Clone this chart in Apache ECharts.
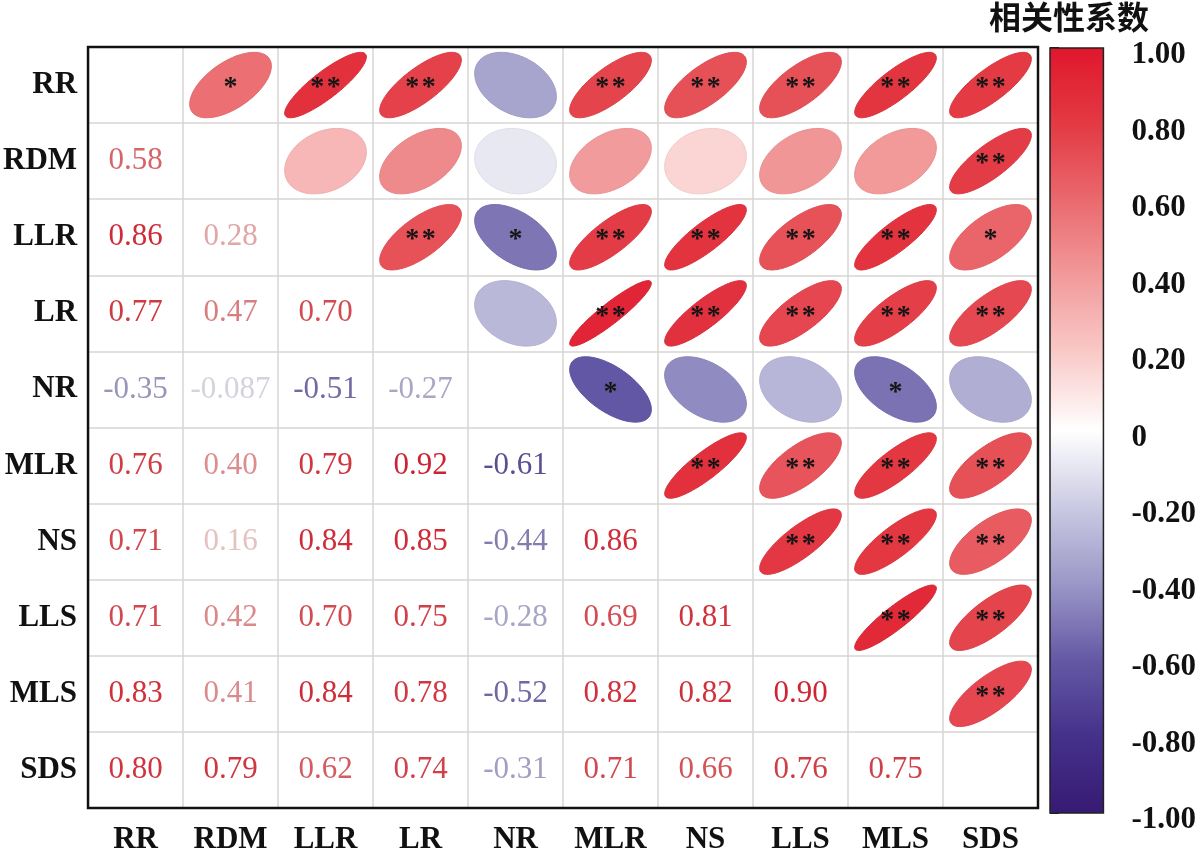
<!DOCTYPE html>
<html>
<head>
<meta charset="utf-8">
<script src="https://cdn.jsdelivr.net/npm/echarts@6/dist/echarts.min.js"></script>
<style>
  html, body { margin: 0; padding: 0; background: #fff; }
  #chart { width: 1199px; height: 855px; }
</style>
</head>
<body>
<div id="chart"></div>
<script>
const vars = ['RR', 'RDM', 'LLR', 'LR', 'NR', 'MLR', 'NS', 'LLS', 'MLS', 'SDS'];

// lower triangle, row i against columns 0..i-1
const lowerVals = [
  [],
  [0.58],
  [0.86, 0.28],
  [0.77, 0.47, 0.70],
  [-0.35, -0.087, -0.51, -0.27],
  [0.76, 0.40, 0.79, 0.92, -0.61],
  [0.71, 0.16, 0.84, 0.85, -0.44, 0.86],
  [0.71, 0.42, 0.70, 0.75, -0.28, 0.69, 0.81],
  [0.83, 0.41, 0.84, 0.78, -0.52, 0.82, 0.82, 0.90],
  [0.80, 0.79, 0.62, 0.74, -0.31, 0.71, 0.66, 0.76, 0.75],
];

// significance marks, upper triangle, row i against columns i+1..9
const sigMarks = [
  ['*', '**', '**', '', '**', '**', '**', '**', '**'],
  ['', '', '', '', '', '', '', '**'],
  ['**', '*', '**', '**', '**', '**', '*'],
  ['', '**', '**', '**', '**', '**'],
  ['*', '', '', '*', ''],
  ['**', '**', '**', '**'],
  ['**', '**', '**'],
  ['**', '**'],
  ['**'],
];

const barTicks = [-1, -0.8, -0.6, -0.4, -0.2, 0, 0.2, 0.4, 0.6, 0.8, 1];
const barColors = ['#371a74', '#44318a', '#6459a5', '#9b97c7', '#cbcae3', '#ffffff',
  '#f9cac8', '#f29b9c', '#ea6a6e', '#e33a44', '#e0172c'];

// build cells: [col, row, r] + mark lookup
const cells = [];
const cellMark = [];
for (let i = 0; i < vars.length; i++) {
  for (let j = 0; j < i; j++) {
    const r = lowerVals[i][j];
    cells.push([j, i, r]);       // lower: number
    cellMark.push('');
    cells.push([i, j, r]);       // upper: ellipse
    cellMark.push(sigMarks[j][i - j - 1]);
  }
}

function fmt(v) {
  const d = (String(v).split('.')[1] || '').length;
  return v.toFixed(Math.max(2, d));
}

// numbers read a bit darker than the filled ellipses
function darker(color, k) {
  const c = echarts.color.parse(color);
  return 'rgb(' + Math.round(c[0] * k) + ',' + Math.round(c[1] * k) + ',' + Math.round(c[2] * k) + ')';
}

const serif = '"Liberation Serif", "DejaVu Serif", serif';

function renderCell(params, api) {
  const x = api.value(0), y = api.value(1), r = api.value(2);
  const c = api.coord([x, y]);
  const sz = api.size([1, 1]);
  const color = api.visual('color');
  if (x < y) {
    return {
      type: 'text',
      style: {
        x: c[0], y: c[1], text: fmt(r), fill: darker(color, 0.91),
        font: '31px ' + serif, align: 'center', verticalAlign: 'middle',
      },
    };
  }
  const a = Math.acos(r);
  const pts = [];
  const n = 90;
  for (let k = 0; k < n; k++) {
    const t = (2 * Math.PI * k) / n;
    pts.push([
      c[0] + (Math.cos(t + a / 2) / 2) * sz[0] * 0.86,
      c[1] - (Math.cos(t - a / 2) / 2) * sz[1] * 0.86,
    ]);
  }
  const children = [{
    type: 'polygon',
    shape: { points: pts },
    style: { fill: color, stroke: darker(color, 0.96), lineWidth: 1 },
  }];
  const mark = cellMark[params.dataIndex];
  if (mark) {
    children.push({
      type: 'text',
      style: {
        x: c[0], y: c[1] + 3, text: mark.split('').join('\u200a'), fill: '#151515',
        font: 'bold 28px ' + serif, align: 'center', verticalAlign: 'middle',
      },
    });
  }
  return { type: 'group', children };
}

const chart = echarts.init(document.getElementById('chart'));
chart.setOption({
  backgroundColor: '#fff',
  animation: false,
  title: {
    text: '相关性系数', left: 989, top: 1, padding: 0,
    textStyle: { fontFamily: '"Noto Sans CJK SC"', fontSize: 32, fontWeight: 'bold', color: '#111' },
  },
  grid: [
    { left: 86, top: 47, width: 952, height: 768, show: true, borderColor: '#111', borderWidth: 2.5, z: 10, backgroundColor: 'transparent' },
    { left: 1050, top: 48, width: 54, height: 765, show: true, borderColor: '#222', borderWidth: 1.5, z: 10, backgroundColor: 'transparent' },
  ],
  xAxis: [
    {
      type: 'category', gridIndex: 0, data: vars,
      axisLine: { show: false }, axisTick: { show: false },
      axisLabel: { interval: 0, margin: 16, fontSize: 31, fontWeight: 'bold', fontFamily: serif, color: '#111' },
      splitLine: { show: true, interval: 0, lineStyle: { color: '#d8d5d5', width: 1.5 } },
    },
    { type: 'value', gridIndex: 1, show: false, min: 0, max: 1 },
  ],
  yAxis: [
    {
      type: 'category', gridIndex: 0, data: vars, inverse: true,
      axisLine: { show: false }, axisTick: { show: false },
      axisLabel: { interval: 0, margin: 11, fontSize: 31, fontWeight: 'bold', fontFamily: serif, color: '#111' },
      splitLine: { show: true, interval: 0, lineStyle: { color: '#d8d5d5', width: 1.5 } },
    },
    {
      type: 'value', gridIndex: 1, position: 'right', min: -1, max: 1, interval: 0.2,
      axisLine: { show: false },
      axisTick: { show: true, length: 9, lineStyle: { color: '#222', width: 2 } },
      splitLine: { show: false },
      axisLabel: {
        margin: 28, color: '#111',
        formatter: (v) => '{t|' + (Math.abs(v) < 1e-9 ? '0' : v.toFixed(2)) + '}',
        rich: {
          t: { fontSize: 31, fontWeight: 'bold', fontFamily: serif, color: '#111', padding: [14, 0, 0, 0] },
        },
      },
    },
  ],
  visualMap: {
    type: 'continuous', min: barTicks[0], max: barTicks[barTicks.length - 1],
    dimension: 2, seriesIndex: 0, orient: 'vertical',
    left: 1050, top: 48, itemWidth: 54, itemHeight: 765, padding: 0,
    calculable: false, text: null, showLabel: false, hoverLink: false,
    inRange: { color: barColors },
  },
  series: [
    {
      type: 'custom', xAxisIndex: 0, yAxisIndex: 0,
      data: cells, renderItem: renderCell, z: 5,
    },
  ],
});
</script>
</body>
</html>
